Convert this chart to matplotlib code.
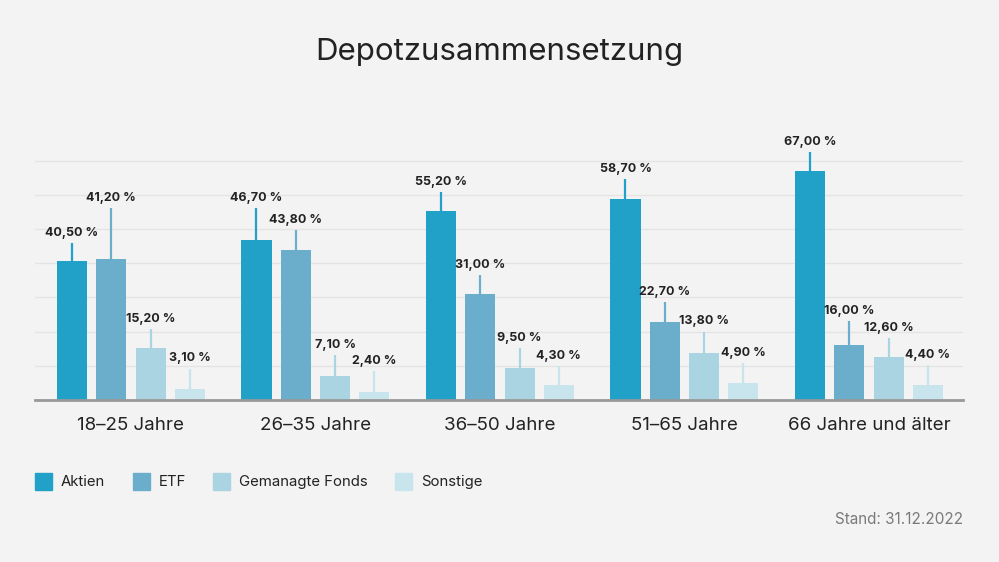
import numpy as np
import matplotlib.pyplot as plt
from matplotlib.patches import Rectangle

plt.rcParams['font.family'] = ['Inter', 'DejaVu Sans']

# Data
groups = ['18–25 Jahre', '26–35 Jahre', '36–50 Jahre', '51–65 Jahre', '66 Jahre und älter']
series = ['Aktien', 'ETF', 'Gemanagte Fonds', 'Sonstige']
aktien = [40.5, 46.7, 55.2, 58.7, 67.0]
etf = [41.2, 43.8, 31.0, 22.7, 16.0]
fonds = [15.2, 7.1, 9.5, 13.8, 12.6]
sonstige = [3.1, 2.4, 4.3, 4.9, 4.4]

# where the leader line of each label ends (layout)
label_y = [
    [45.8, 56.0, 20.8, 9.2],
    [56.0, 49.7, 13.2, 8.5],
    [60.9, 36.5, 15.3, 9.9],
    [64.5, 28.6, 20.0, 10.9],
    [72.6, 23.1, 18.2, 10.2],
]

colors = ['#21a0c8', '#6aaecb', '#aad4e2', '#c8e4ec']
bg = '#f3f3f3'

fig = plt.figure(figsize=(9.99, 5.62), dpi=100, facecolor=bg)
ax = fig.add_axes([35 / 999, 162 / 562, 928 / 999, 75 * 3.42 / 562])
ax.set_facecolor(bg)

values = [aktien, etf, fonds, sonstige]
x = np.arange(len(groups))
step = 0.213
width = 0.163

for i, vals in enumerate(values):
    xs = x + (i - 1.5) * step
    ax.bar(xs, vals, width, color=colors[i], zorder=3)
    for j, v in enumerate(vals):
        top = label_y[j][i]
        ax.plot([xs[j], xs[j]], [v, top], color=colors[i], lw=1.6, zorder=3,
                solid_capstyle='butt')
        txt = f'{v:.2f}'.replace('.', ',') + ' %'
        ax.annotate(txt, (xs[j], top), xytext=(0, 3), textcoords='offset points',
                    ha='center', va='bottom', fontsize=9, fontweight='bold',
                    color='#222222', zorder=4)

ax.set_xlim(-0.52, 4.51)
ax.set_ylim(0, 75)
ax.set_yticks(np.arange(10, 80, 10))
ax.yaxis.grid(True, color='#e4e4e4', lw=1, zorder=0)
ax.tick_params(axis='y', left=False, labelleft=False)
ax.set_xticks(x)
ax.set_xticklabels(groups, fontsize=13.5, color='#222222')
ax.tick_params(axis='x', length=0, pad=12.5)
for s in ['top', 'right', 'left']:
    ax.spines[s].set_visible(False)
ax.spines['bottom'].set_color('#999999')
ax.spines['bottom'].set_linewidth(2)
ax.spines['bottom'].set_zorder(5)

fig.text(0.5, 1 - 52 / 562, 'Depotzusammensetzung', ha='center', va='center',
         fontsize=22.5, color='#222222')

# legend
leg_x = [35, 133, 213, 395]
for i, name in enumerate(series):
    fig.patches.append(Rectangle((leg_x[i] / 999, 1 - 490 / 562), 17 / 999, 17 / 562,
                                 transform=fig.transFigure, color=colors[i]))
    fig.text((leg_x[i] + 26) / 999, 1 - 482 / 562, name, ha='left', va='center',
             fontsize=10.75, color='#222222')

fig.text(963 / 999, 1 - 520 / 562, 'Stand: 31.12.2022', ha='right', va='center',
         fontsize=11, color='#7a7a7a')

plt.savefig('out.png', dpi=100, facecolor=bg)
